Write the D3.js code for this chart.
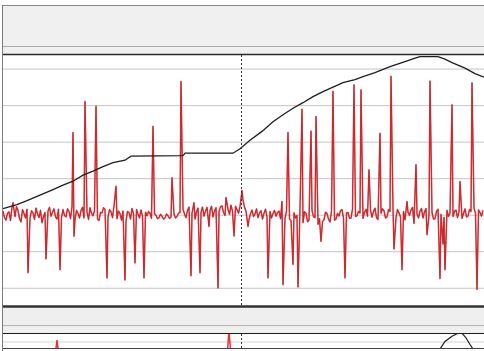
<!DOCTYPE html>
<html><head><meta charset="utf-8">
<script src="https://cdn.jsdelivr.net/npm/d3@7"></script>
<style>html,body{margin:0;padding:0;background:#fff;overflow:hidden}</style>
</head><body><svg id="c" width="484" height="351"></svg>
<script>
// ---- data ----
const gridTicks = [-20, -10, 0, 10, 20, 30, 40];
const noiseStep = 3;
const noise = [
  1.0, -1.5, 0.8, 2.0, -0.5, 1.2, -2.0, 0.3, 1.5, -1.0,
  0.5, 1.8, -0.8, -2.2, 0.6, 1.0, -0.4, 1.6, -1.2, 0.2,
  1.4, -0.6, 0.9, 2.2, -1.4, 0.4, 1.1, -0.9, 0.7, 1.9,
  -0.3, 1.2, -1.6, 0.5, 1.5, -0.7, 0.8, 2.4, -1.1, 0.3,
  1.0, -1.8, 0.6, 1.7, -0.5, 0.2, 1.3, -0.8, -0.3, 0.4,
  -0.6, -0.2, -0.8, -0.4, -0.9, -0.3, -0.7, 0.2, -0.5, 0.6,
  1.5, -0.8, 2.1, 0.4, -1.2, 1.8, 0.6, -0.4, 2.0, 1.1,
  -0.6, 1.9, 0.8, 2.4, -0.2, 1.5, 2.6, 0.3, 1.4, 2.2,
  4.0, 1.0, -1.4, 1.3, 0.2, -0.8, 1.1, 0.4, -0.6, 0.9,
  0.3, -0.4, 1.0, 0.2, -0.9, 0.8, -1.6, 0.5, -0.2, 1.6,
  -2.2, 0.4, -1.5, 1.2, -0.8, -2.6, 0.6, -1.4, 0.3, -2.0,
  0.8, -1.2, -0.4, 1.4, -1.8, 0.6, -0.9, 1.2, -0.3, 0.5,
  -1.0, 1.5, 0.2, -0.7, 1.8, -1.3, 0.4, 1.1, -0.6, 0.9,
  1.6, -0.8, 0.5, 2.0, -1.4, 0.7, 1.3, -2.4, 0.2, 1.0,
  -0.9, 1.7, -0.3, 0.6, -1.1, 1.5, 0.1, -0.7, 1.2, 0.4,
  -0.5, 1.3, 0.7, -1.0, 1.6, -0.4, 0.9, 1.8, -0.8, 0.6,
  1.2
];
// in-between samples (t = 1.5 + 3*i)
const noiseMid = [
  -0.8, 0.4, -1.6, 0.9, 2.2, -1.0, 1.4, -0.9, 0.2, 1.1,
  -1.3, 0.2, 1.2, -0.5, -1.4, 2.0, 0.7, -0.6, 1.5, -0.8,
  -0.2, 1.6, -1.1, 0.3, 1.2, -0.9, 2.0, 0.5, -1.3, 0.4,
  1.1, -1.2, 0.6, 1.9, -0.9, 1.4, -0.8, 0.4, 1.0, -1.5,
  0.2, 0.9, -1.2, 0.3, 1.4, -0.9, -0.4, 0.7, 0.9, -1.0,
  0.3, -1.1, 0.1, -1.2, 0.2, -1.0, 0.1, -0.9, 0.4, -0.6,
  0.2, 1.2, -0.4, 1.6, 0.8, -0.3, 2.1, 1.0, -0.5, 2.3,
  1.0, -0.4, 2.2, 0.6, 1.8, 0.1, 1.0, 2.3, 0.4, 1.2,
  2.0, 2.6, 0.3, -0.5, 1.6, 0.5, -1.2, 1.5, 0.8, -0.9,
  1.2, 0.6, -1.1, 1.4, 0.9, -1.2, 0.2, -0.9, 1.0, -0.7,
  0.8, -1.9, 0.3, -0.6, 0.9, -1.1, -1.9, 0.7, -1.2, 0.9,
  -1.5, 0.4, 1.1, -0.9, 0.5, -1.0, 1.5, -0.5, 0.9, -1.3,
  0.6, -0.4, 1.3, 0.9, -0.8, 0.6, 1.6, -0.9, 1.4, 0.1,
  -0.7, 1.4, -0.6, 0.9, 1.1, -0.2, 2.0, 0.5, -0.9, 1.7,
  0.8, -0.6, 1.3, -1.2, 0.9, -0.4, 1.6, 0.8, -0.5, 1.6,
  0.9, -0.8, 1.6, 0.3, -0.6, 1.4, -0.3, 0.4, 1.3, -0.4
];
const spikeT = [10, 25, 43, 57, 70, 71, 82, 93, 104, 113, 122, 132, 141, 150, 169, 178,
  188, 191, 197, 206, 215, 223, 231, 239, 245, 265, 279, 280, 285, 290, 295, 299, 308, 313,
  318, 330, 342, 351, 358, 366, 377, 388, 391, 399, 404, 413, 424, 427, 437, 440, 442,
  449, 457, 469, 474];
const spikeV = [3.3, -15.9, -12.1, -15.1, 22.5, -5.9, 31.0, 29.7, -17.3, 7.8, -17.9, -13.2, -17.3, 24.2, 10.1, 36.5,
  -16.7, 3.3, -15.9, -3.2, -20.1, 4.7, -5.8, 6.6, -3.2, -17.3, 3.6, -19.2, 22.5, -13.6, -19.8, 28.9, 22.9, 26.9,
  -7.3, 33.8, -17.3, 35.6, 34.2, 12.3, 22.3, 37.9, -9.4, -15.1, 3.6, 13.7, -5.5, 36.6, -17.5, -8.0, -15.1,
  30.1, 9.1, 36.1, -20.5];
const blackT = [0, 7, 14, 24, 37, 50, 60, 70, 80, 90, 100, 110, 122, 128, 180, 182, 230, 237,
  247, 259, 270, 280, 290, 300, 310, 320, 330, 340, 352, 360, 372, 387, 402, 412, 417, 435,
  442, 449, 462, 472, 481];
const blackV = [1.64, 2.19, 2.74, 3.83, 5.34, 6.85, 8.08, 9.17, 10.82, 11.91, 13.14, 14.24, 14.92, 16.02, 16.16, 16.84, 16.84, 18.07,
  20.40, 22.81, 25.47, 27.38, 29.16, 30.67, 32.31, 33.68, 34.91, 36.14, 36.97, 37.79, 38.88, 40.53, 41.89, 42.85, 43.26, 43.26,
  42.58, 41.62, 40.12, 38.61, 37.65];
const cursorT = 238;
const lowerTicks = [5];
const lowerRedT = [0, 52, 54, 56, 224, 226, 228, 481];
const lowerRedV = [-5, -5, 6, -5, -5, 12, -5, -5];
const lowerBlackT = [434, 437, 442, 449, 455, 459, 463, 467, 471, 474];
const lowerBlackV = [-3, 0, 5, 8.5, 10.5, 10.5, 7.5, 3, -1, -4];

// ---- drawing ----
const W = 484, H = 351;
const svg = d3.select('#c');
const x = d3.scaleLinear().domain([0, 481]).range([3, 484]);
const y = d3.scaleLinear().domain([-25, 44]).range([306, 54]);
const y2 = d3.scaleLinear().domain([0, 10]).range([349, 334]);

// header
svg.append('rect').attr('x', 2).attr('y', 5).attr('width', W).attr('height', 50).attr('fill', '#f0f0f0');
svg.append('line').attr('x1', 2).attr('x2', W).attr('y1', 5.5).attr('y2', 5.5).attr('stroke', '#858585');
svg.append('line').attr('x1', 2).attr('x2', W).attr('y1', 46.5).attr('y2', 46.5).attr('stroke', '#aaaaaa');
// main plot
svg.append('rect').attr('x', 3).attr('y', 55).attr('width', W).attr('height', 251).attr('fill', '#fff');
svg.append('defs').call(d => {
  d.append('clipPath').attr('id', 'cp1').append('rect').attr('x', 3).attr('y', 55).attr('width', W).attr('height', 250);
  d.append('clipPath').attr('id', 'cp2').append('rect').attr('x', 3).attr('y', 334).attr('width', W).attr('height', 14);
});
svg.append('g').attr('transform', 'translate(3,0)')
  .call(d3.axisLeft(y).tickValues(gridTicks).tickSize(-(W - 3)).tickFormat(''))
  .call(g => g.select('.domain').remove())
  .call(g => g.selectAll('line').attr('stroke', '#c4c4c4'));

// lower panel
svg.append('rect').attr('x', 3).attr('y', 307).attr('width', W).attr('height', 26).attr('fill', '#efefef');
svg.append('line').attr('x1', 3).attr('x2', W).attr('y1', 325.5).attr('y2', 325.5).attr('stroke', '#b4b4b4');
svg.append('rect').attr('x', 3).attr('y', 334).attr('width', W).attr('height', 17).attr('fill', '#fff');
svg.append('g').attr('transform', 'translate(3,0)')
  .call(d3.axisLeft(y2).tickValues(lowerTicks).tickSize(-(W - 3)).tickFormat(''))
  .call(g => g.select('.domain').remove())
  .call(g => g.selectAll('line').attr('stroke', '#d4d4d4'));

// merge red series
const spikes = spikeT.map((t, i) => ({t, v: spikeV[i]}));
const base = noise.map((v, i) => ({t: i * noiseStep, v}))
  .concat(noiseMid.map((v, i) => ({t: i * noiseStep + noiseStep / 2, v})));
const redData = base
  .filter(d => !spikeT.some(s => Math.abs(s - d.t) < 1))
  .concat(spikes)
  .sort((a, b) => a.t - b.t);

const line = d3.line().x(d => x(d.t)).y(d => y(d.v));
const main = svg.append('g').attr('clip-path', 'url(#cp1)');
main.append('path').datum(redData).attr('d', line).attr('fill', 'none')
  .attr('stroke', '#e6343a').attr('stroke-width', 1.5).attr('stroke-linejoin', 'round');
main.append('path').datum(redData).attr('d', line).attr('fill', 'none')
  .attr('stroke', '#7a1c1c').attr('stroke-width', 0.5).attr('stroke-opacity', 0.6);
const blackData = blackT.map((t, i) => ({t, v: blackV[i]}));
main.append('path').datum(blackData).attr('d', line).attr('fill', 'none')
  .attr('stroke', '#1e1e1e').attr('stroke-width', 1.3);

const line2 = d3.line().x(d => x(d.t)).y(d => y2(d.v));
const low = svg.append('g').attr('clip-path', 'url(#cp2)');
low.append('path').datum(lowerRedT.map((t, i) => ({t, v: lowerRedV[i]}))).attr('d', line2)
  .attr('fill', 'none').attr('stroke', '#e6343a').attr('stroke-width', 1.5);
low.append('path').datum(lowerBlackT.map((t, i) => ({t, v: lowerBlackV[i]}))).attr('d', line2)
  .attr('fill', 'none').attr('stroke', '#1e1e1e').attr('stroke-width', 1.2);

// separators
svg.append('line').attr('x1', 2).attr('x2', W).attr('y1', 54.5).attr('y2', 54.5).attr('stroke', '#2a2a2a').attr('stroke-width', 1.4);
svg.append('line').attr('x1', 2).attr('x2', W).attr('y1', 306.5).attr('y2', 306.5).attr('stroke', '#333').attr('stroke-width', 2.6);
svg.append('line').attr('x1', 2).attr('x2', W).attr('y1', 333.5).attr('y2', 333.5).attr('stroke', '#1e1e1e');
svg.append('line').attr('x1', 2).attr('x2', W).attr('y1', 348.5).attr('y2', 348.5).attr('stroke', '#444');

// cursor
const cx = Math.round(x(cursorT)) + 0.5;
[[55, 305], [334, 348]].forEach(([a, b]) => {
  svg.append('line').attr('x1', cx).attr('x2', cx).attr('y1', a).attr('y2', b)
    .attr('stroke', '#333').attr('stroke-dasharray', '2,2');
});
// left border
svg.append('line').attr('x1', 2.5).attr('x2', 2.5).attr('y1', 5).attr('y2', H).attr('stroke', '#7a7a7a');
</script></body></html>
